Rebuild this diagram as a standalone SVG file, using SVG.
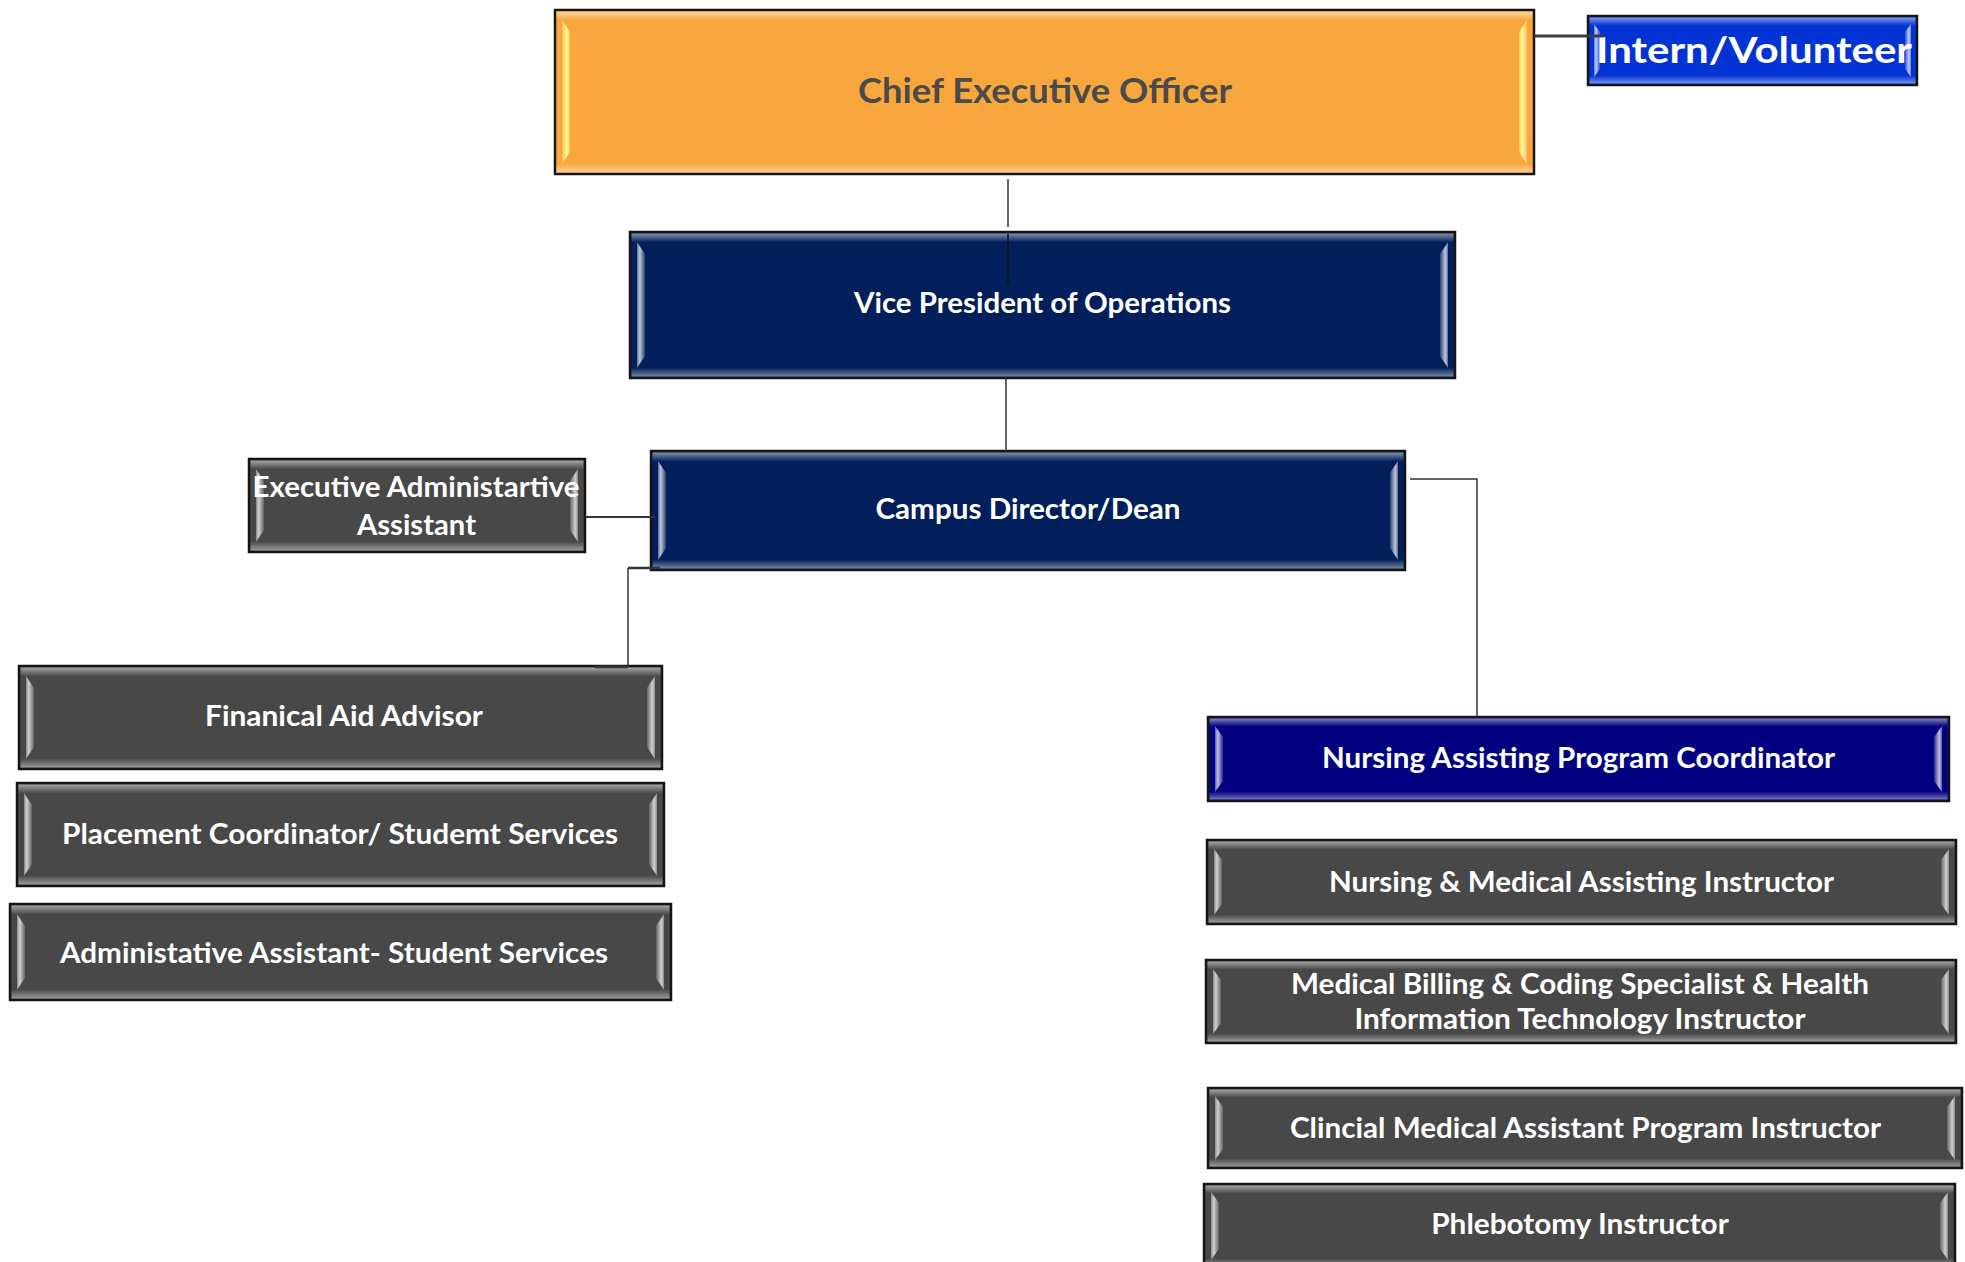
<svg xmlns="http://www.w3.org/2000/svg" width="1965" height="1262" viewBox="0 0 1965 1262">
<defs>
<linearGradient id="gTop" x1="0" y1="0" x2="0" y2="1"><stop offset="0" stop-color="#fff" stop-opacity="0.5"/><stop offset="1" stop-color="#fff" stop-opacity="0"/></linearGradient>
<linearGradient id="gBot" x1="0" y1="0" x2="0" y2="1"><stop offset="0" stop-color="#fff" stop-opacity="0"/><stop offset="1" stop-color="#fff" stop-opacity="0.45"/></linearGradient>
<linearGradient id="gL" x1="0" y1="0" x2="1" y2="0"><stop offset="0" stop-color="#fff" stop-opacity="0.35"/><stop offset="0.35" stop-color="#fff" stop-opacity="0.75"/><stop offset="1" stop-color="#fff" stop-opacity="0.15"/></linearGradient>
<linearGradient id="gR" x1="0" y1="0" x2="1" y2="0"><stop offset="0" stop-color="#fff" stop-opacity="0.15"/><stop offset="0.65" stop-color="#fff" stop-opacity="0.75"/><stop offset="1" stop-color="#fff" stop-opacity="0.35"/></linearGradient>
<linearGradient id="yL" x1="0" y1="0" x2="1" y2="0"><stop offset="0" stop-color="#ffe680" stop-opacity="0.4"/><stop offset="0.6" stop-color="#ffff9a" stop-opacity="1"/><stop offset="1" stop-color="#ffe070" stop-opacity="0.5"/></linearGradient>
<linearGradient id="yR" x1="0" y1="0" x2="1" y2="0"><stop offset="0" stop-color="#ffe070" stop-opacity="0.5"/><stop offset="0.4" stop-color="#ffff9a" stop-opacity="1"/><stop offset="1" stop-color="#ffe680" stop-opacity="0.4"/></linearGradient>
<style>
.b{stroke:#151515;stroke-width:2.5}
.or{fill:#f7a73d}
.nv{fill:#021f5b}
.bl{fill:#0433d4}
.nc{fill:#020280}
.gr{fill:#484848}
.t{font-family:Lato,"Open Sans","Liberation Sans",sans-serif;font-weight:700;fill:#ffffff;text-anchor:middle;font-size:28px}
.c{fill:none;stroke:#33333d;stroke-width:1.5}
.ct{fill:none;stroke:#3a3a48;stroke-width:3}
</style>
</defs>
<rect width="1965" height="1262" fill="#ffffff"/>

<g id="ceo">
<rect class="b or" x="555" y="10" width="979" height="164"/>
<rect x="556.5" y="11.5" width="976" height="9" fill="url(#gTop)"/>
<rect x="556.5" y="163.5" width="976" height="9" fill="url(#gBot)"/>
<polygon points="562,20 570,32 570,152 562,164" fill="url(#yL)"/>
<polygon points="1527,20 1519,32 1519,152 1527,164" fill="url(#yR)"/>
<text class="t" x="1045" y="103" style="fill:#4a4a4a;font-size:35px" textLength="374" lengthAdjust="spacingAndGlyphs">Chief Executive Officer</text>
</g>

<g id="intern">
<rect class="b bl" x="1588" y="16" width="329" height="69"/>
<rect x="1589.5" y="17.5" width="326" height="8" fill="url(#gTop)"/>
<rect x="1589.5" y="75.5" width="326" height="8" fill="url(#gBot)"/>
<polygon points="1594,24 1600,32 1600,69 1594,77" fill="url(#gL)"/>
<polygon points="1911,24 1905,32 1905,69 1911,77" fill="url(#gR)"/>
<text class="t" x="1754" y="63" style="font-size:37px" textLength="316" lengthAdjust="spacingAndGlyphs">Intern/Volunteer</text>
</g>

<g id="vp">
<rect class="b nv" x="630" y="232" width="825" height="146"/>
<rect x="631.5" y="233.5" width="822" height="9" fill="url(#gTop)"/>
<rect x="631.5" y="367.5" width="822" height="9" fill="url(#gBot)"/>
<polygon points="637,242 645,254 645,356 637,368" fill="url(#gL)"/>
<polygon points="1448,242 1440,254 1440,356 1448,368" fill="url(#gR)"/>
<text class="t" x="1042.5" y="313" textLength="377" lengthAdjust="spacingAndGlyphs">Vice President of Operations</text>
</g>

<g id="campus">
<rect class="b nv" x="651" y="451" width="754" height="119"/>
<rect x="652.5" y="452.5" width="751" height="9" fill="url(#gTop)"/>
<rect x="652.5" y="559.5" width="751" height="9" fill="url(#gBot)"/>
<polygon points="658,461 666,473 666,548 658,560" fill="url(#gL)"/>
<polygon points="1398,461 1390,473 1390,548 1398,560" fill="url(#gR)"/>
<text class="t" x="1028" y="519" textLength="305" lengthAdjust="spacingAndGlyphs">Campus Director/Dean</text>
</g>

<g id="exec">
<rect class="b gr" x="249" y="459" width="336" height="93"/>
<rect x="250.5" y="460.5" width="333" height="9" fill="url(#gTop)"/>
<rect x="250.5" y="541.5" width="333" height="9" fill="url(#gBot)"/>
<polygon points="256,469 264,481 264,530 256,542" fill="url(#gL)"/>
<polygon points="578,469 570,481 570,530 578,542" fill="url(#gR)"/>
<text class="t" x="416" y="497" textLength="327" lengthAdjust="spacingAndGlyphs">Executive Administartive</text>
<text class="t" x="416.5" y="535" textLength="119" lengthAdjust="spacingAndGlyphs">Assistant</text>
</g>

<g id="finaid">
<rect class="b gr" x="19" y="666" width="643" height="103"/>
<rect x="20.5" y="667.5" width="640" height="9" fill="url(#gTop)"/>
<rect x="20.5" y="758.5" width="640" height="9" fill="url(#gBot)"/>
<polygon points="26,676 34,688 34,747 26,759" fill="url(#gL)"/>
<polygon points="655,676 647,688 647,747 655,759" fill="url(#gR)"/>
<text class="t" x="344" y="726" textLength="278" lengthAdjust="spacingAndGlyphs">Finanical Aid Advisor</text>
</g>

<g id="placement">
<rect class="b gr" x="17" y="783" width="647" height="103"/>
<rect x="18.5" y="784.5" width="644" height="9" fill="url(#gTop)"/>
<rect x="18.5" y="875.5" width="644" height="9" fill="url(#gBot)"/>
<polygon points="24,793 32,805 32,864 24,876" fill="url(#gL)"/>
<polygon points="657,793 649,805 649,864 657,876" fill="url(#gR)"/>
<text class="t" x="340" y="844" textLength="556" lengthAdjust="spacingAndGlyphs">Placement Coordinator/ Studemt Services</text>
</g>

<g id="adminasst">
<rect class="b gr" x="10" y="904" width="661" height="96"/>
<rect x="11.5" y="905.5" width="658" height="9" fill="url(#gTop)"/>
<rect x="11.5" y="989.5" width="658" height="9" fill="url(#gBot)"/>
<polygon points="17,914 25,926 25,978 17,990" fill="url(#gL)"/>
<polygon points="664,914 656,926 656,978 664,990" fill="url(#gR)"/>
<text class="t" x="334" y="963" textLength="548" lengthAdjust="spacingAndGlyphs">Administative Assistant- Student Services</text>
</g>

<g id="nursecoord">
<rect class="b nc" x="1208" y="717" width="741" height="84"/>
<rect x="1209.5" y="718.5" width="738" height="8" fill="url(#gTop)"/>
<rect x="1209.5" y="791.5" width="738" height="8" fill="url(#gBot)"/>
<polygon points="1215,726 1223,737 1223,781 1215,792" fill="url(#gL)"/>
<polygon points="1942,726 1934,737 1934,781 1942,792" fill="url(#gR)"/>
<text class="t" x="1578.5" y="768" textLength="513" lengthAdjust="spacingAndGlyphs">Nursing Assisting Program Coordinator</text>
</g>

<g id="nursemed">
<rect class="b gr" x="1207" y="840" width="749" height="84"/>
<rect x="1208.5" y="841.5" width="746" height="8" fill="url(#gTop)"/>
<rect x="1208.5" y="914.5" width="746" height="8" fill="url(#gBot)"/>
<polygon points="1214,849 1222,860 1222,904 1214,915" fill="url(#gL)"/>
<polygon points="1949,849 1941,860 1941,904 1949,915" fill="url(#gR)"/>
<text class="t" x="1581.5" y="892" textLength="505" lengthAdjust="spacingAndGlyphs">Nursing &amp; Medical Assisting Instructor</text>
</g>

<g id="medbill">
<rect class="b gr" x="1206" y="960" width="750" height="83"/>
<rect x="1207.5" y="961.5" width="747" height="8" fill="url(#gTop)"/>
<rect x="1207.5" y="1033.5" width="747" height="8" fill="url(#gBot)"/>
<polygon points="1213,969 1221,980 1221,1023 1213,1034" fill="url(#gL)"/>
<polygon points="1949,969 1941,980 1941,1023 1949,1034" fill="url(#gR)"/>
<text class="t" x="1580" y="993.5" textLength="578" lengthAdjust="spacingAndGlyphs">Medical Billing &amp; Coding Specialist &amp; Health</text>
<text class="t" x="1580" y="1028.5" textLength="451" lengthAdjust="spacingAndGlyphs">Information Technology Instructor</text>
</g>

<g id="clinical">
<rect class="b gr" x="1208" y="1088" width="754" height="80"/>
<rect x="1209.5" y="1089.5" width="751" height="8" fill="url(#gTop)"/>
<rect x="1209.5" y="1158.5" width="751" height="8" fill="url(#gBot)"/>
<polygon points="1215,1096 1223,1107 1223,1149 1215,1160" fill="url(#gL)"/>
<polygon points="1955,1096 1947,1107 1947,1149 1955,1160" fill="url(#gR)"/>
<text class="t" x="1585.5" y="1138" textLength="591" lengthAdjust="spacingAndGlyphs">Clincial Medical Assistant Program Instructor</text>
</g>

<g id="phleb">
<rect class="b gr" x="1204" y="1184" width="751" height="84"/>
<rect x="1205.5" y="1185.5" width="748" height="8" fill="url(#gTop)"/>
<rect x="1205.5" y="1258.5" width="748" height="8" fill="url(#gBot)"/>
<polygon points="1211,1192 1219,1203 1219,1249 1211,1260" fill="url(#gL)"/>
<polygon points="1948,1192 1940,1203 1940,1249 1948,1260" fill="url(#gR)"/>
<text class="t" x="1580" y="1234" textLength="297.5" lengthAdjust="spacingAndGlyphs">Phlebotomy Instructor</text>
</g>

<g id="connectors">
<path class="ct" d="M1534 36 H1604"/>
<path class="c" d="M1008 179 V227"/>
<path class="c" d="M1008 234 V283" style="stroke:#111"/>
<path class="c" d="M1006 378 V452"/>
<path class="c" d="M585 517 H655" style="stroke-width:2.2"/>
<path class="c" d="M628 568 V667"/>
<path class="c" d="M628 568 H660" style="stroke-width:2.5"/>
<path class="c" d="M595 667 H628" style="stroke-width:2.5"/>
<path class="c" d="M1410 479 H1477 V717"/>
</g>
</svg>
